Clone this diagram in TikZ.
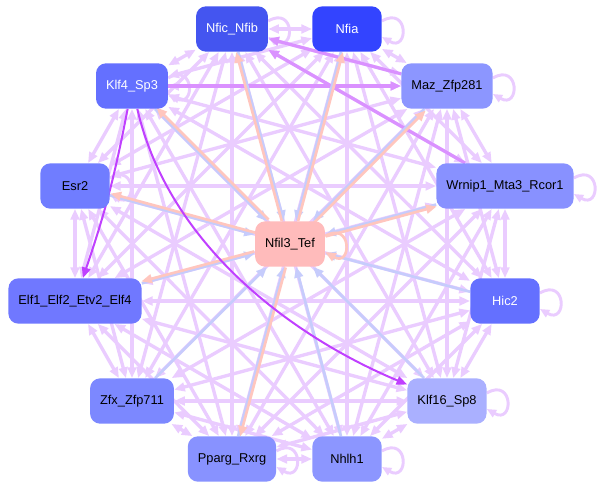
\documentclass[tikz,border=0pt]{standalone}
\usepackage{fontspec}
\setmainfont{Liberation Sans}
\usepackage{tikz}
\usetikzlibrary{arrows.meta, backgrounds}

\definecolor{lav}{RGB}{234,204,255}
\definecolor{midpurple}{RGB}{218,145,255}
\definecolor{deeppurple}{RGB}{192,64,255}
\definecolor{inblue}{RGB}{198,204,252}
\definecolor{outpink}{RGB}{255,198,190}

\begin{document}
\begin{tikzpicture}[x=0.75pt, y=-0.75pt,
    tf/.style={rectangle, rounded corners=7.5pt, minimum width=52pt, minimum height=34pt, inner xsep=7.5pt, font=\fontsize{9.6}{11}\selectfont},
    link/.style={lav, line width=2.5pt, {Triangle[length=8pt, width=6.5pt]}-{Triangle[length=8pt, width=6.5pt]}},
    strong/.style={midpurple, line width=2.4pt, -{Triangle[length=8pt, width=6.5pt]}},
    deep/.style={deeppurple, line width=1.5pt, -{Triangle[length=8pt, width=6.5pt]}},
    tocore/.style={inblue, line width=2pt, -{Triangle[length=8pt, width=6.5pt]}},
    fromcore/.style={outpink, line width=2pt, -{Triangle[length=8pt, width=6.5pt]}},
    selfloop/.style={lav, line width=2.2pt, -{Triangle[length=7pt, width=6pt]}}]

    \useasboundingbox (0,0) rectangle (605,489);

    % outer ring of factors
    \node[tf, fill={rgb,255:red,68;green,85;blue,240}, text=white] (nfic) at (232,29) {Nfic\_Nfib};
    \node[tf, fill={rgb,255:red,51;green,68;blue,255}, text=white] (nfia) at (347,29) {Nfia};
    \node[tf, fill={rgb,255:red,140;green,150;blue,255}] (maz) at (447,86) {Maz\_Zfp281};
    \node[tf, fill={rgb,255:red,136;green,145;blue,255}] (wrnip) at (505,186) {Wrnip1\_Mta3\_Rcor1};
    \node[tf, fill={rgb,255:red,100;green,112;blue,255}, text=white] (hic) at (505,301) {Hic2};
    \node[tf, fill={rgb,255:red,170;green,176;blue,255}] (klf16) at (447,401) {Klf16\_Sp8};
    \node[tf, fill={rgb,255:red,140;green,150;blue,255}] (nhlh) at (347,459) {Nhlh1};
    \node[tf, fill={rgb,255:red,136;green,146;blue,255}] (pparg) at (232,459) {Pparg\_Rxrg};
    \node[tf, fill={rgb,255:red,124;green,136;blue,255}] (zfx) at (132,401) {Zfx\_Zfp711};
    \node[tf, fill={rgb,255:red,112;green,120;blue,255}] (elf) at (75,301) {Elf1\_Elf2\_Etv2\_Elf4};
    \node[tf, fill={rgb,255:red,112;green,125;blue,255}] (esr) at (75,186) {Esr2};
    \node[tf, fill={rgb,255:red,100;green,112;blue,255}, text=white] (klf4) at (132,86) {Klf4\_Sp3};
    % centre
    \node[tf, fill={rgb,255:red,255;green,187;blue,187}] (nfil) at (290,244) {Nfil3\_Tef};

    \begin{scope}[on background layer]
        \fill[white] (0,0) rectangle (605,489);
        % ring to ring
        \foreach \a/\b in {nfic/nfia, nfic/maz, nfic/wrnip, nfic/hic, nfic/klf16, nfic/nhlh, nfic/pparg, nfic/zfx, nfic/elf, nfic/esr, nfic/klf4,
                nfia/maz, nfia/wrnip, nfia/hic, nfia/klf16, nfia/nhlh, nfia/pparg, nfia/zfx, nfia/elf, nfia/esr, nfia/klf4,
                maz/wrnip, maz/hic, maz/klf16, maz/nhlh, maz/pparg, maz/zfx, maz/elf, maz/esr, maz/klf4,
                wrnip/hic, wrnip/klf16, wrnip/nhlh, wrnip/pparg, wrnip/zfx, wrnip/elf, wrnip/esr, wrnip/klf4,
                hic/klf16, hic/nhlh, hic/pparg, hic/zfx, hic/elf, hic/esr, hic/klf4,
                klf16/nhlh, klf16/pparg, klf16/zfx, klf16/elf, klf16/esr, klf16/klf4,
                nhlh/pparg, nhlh/zfx, nhlh/elf, nhlh/esr, nhlh/klf4,
                pparg/zfx, pparg/elf, pparg/esr, pparg/klf4,
                zfx/elf, zfx/esr, zfx/klf4,
                elf/esr, elf/klf4, esr/klf4}
            \draw[link] (\a) -- (\b);

        % self loops
        \foreach \a in {nfic, nfia, maz, wrnip, hic, klf16, nhlh, pparg, klf4, esr}
            \draw[selfloop] ([yshift=6pt]\a.east) to[out=30, in=-30, looseness=5] ([yshift=-6pt]\a.east);

        % stronger links
        \draw[strong] (klf4) -- (maz);
        \draw[strong] (maz) -- (nfic);
        \draw[strong] (wrnip) -- (nfic);

        % links of the centre
        \foreach \a in {nfic, nfia, maz, wrnip, hic, klf16, nhlh, pparg, zfx, elf, esr, klf4}
            \draw[tocore] (\a) -- (nfil);
        \foreach \a/\dx/\dy in {nfic/-1.5/0, nfia/1.5/0, maz/1.1/-1.1, wrnip/0.4/-1.4, esr/0.4/1.4, elf/-0.4/1.4, klf4/1.1/1.1, pparg/1.4/-0.4}
            \draw[fromcore, transform canvas={xshift=\dx pt, yshift=\dy pt}] (nfil) -- (\a);
        \draw[fromcore] ([yshift=6pt]nfil.east) to[out=30, in=-30, looseness=5] ([yshift=-6pt]nfil.east);

        % deep purple links
        \draw[deep] (klf4) .. controls (170,250) and (300,340) .. (klf16);
        \draw[deep] (klf4) to[bend left=4] (elf);
    \end{scope}
\end{tikzpicture}
\end{document}
